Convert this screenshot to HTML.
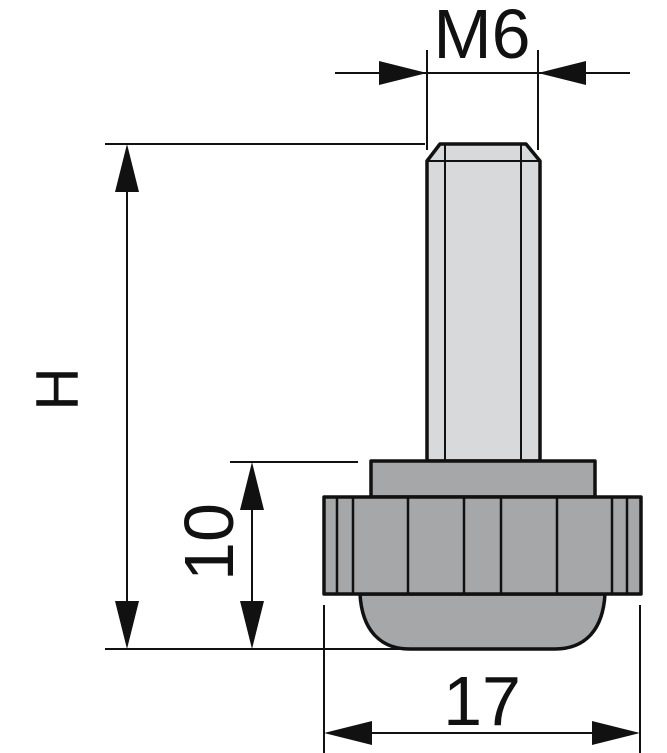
<!DOCTYPE html>
<html><head><style>html,body{margin:0;padding:0;background:#fff}svg{display:block}</style></head>
<body>
<svg width="667" height="753" viewBox="0 0 667 753" xmlns="http://www.w3.org/2000/svg" font-family="Liberation Sans, Arial, sans-serif">
<g stroke="#111" stroke-width="2" fill="none">
<!-- extension lines -->
<line x1="105" y1="144" x2="425" y2="144"/>
<line x1="105" y1="649" x2="400" y2="649"/>
<line x1="230" y1="462" x2="358" y2="462"/>
<line x1="427" y1="50" x2="427" y2="150"/>
<line x1="538" y1="50" x2="538" y2="150"/>
<line x1="324" y1="605" x2="324" y2="753"/>
<line x1="640" y1="605" x2="640" y2="753"/>
<!-- dim lines -->
<line x1="127" y1="150" x2="127" y2="645"/>
<line x1="252" y1="466" x2="252" y2="645"/>
<line x1="335" y1="73" x2="630" y2="73"/>
<line x1="328" y1="733" x2="636" y2="733"/>
</g>
<g fill="#111">
<polygon points="127,144 115,192 139,192"/>
<polygon points="127,649 115,601 139,601"/>
<polygon points="252,462 240,510 264,510"/>
<polygon points="252,649 240,601 264,601"/>
<polygon points="427,73 379,61 379,85"/>
<polygon points="538,73 586,61 586,85"/>
<polygon points="324,733 372,721 372,745"/>
<polygon points="640,733 592,721 592,745"/>
</g>
<!-- part -->
<g stroke="#111" stroke-width="3.5" stroke-linejoin="round">
<path d="M427,461 L427,161 L440,144 L526,144 L540,161 L540,461 Z" fill="#d8d9db"/>
<path d="M360,594 C362,630 380,649 410,649 L555,649 C585,649 603,630 605,594 Z" fill="#a6a7a9"/>
<rect x="371" y="461" width="224" height="36" fill="#a6a7a9"/>
<rect x="324" y="497" width="317" height="97" fill="#a6a7a9"/>
</g>
<g stroke="#111" stroke-width="2">
<line x1="427" y1="161" x2="540" y2="161"/>
<line x1="445" y1="144" x2="445" y2="461"/>
<line x1="521" y1="144" x2="521" y2="461"/>
</g>
<g stroke="#111" stroke-width="2.5">
<line x1="337" y1="497" x2="337" y2="594"/>
<line x1="353" y1="497" x2="353" y2="594"/>
<line x1="408" y1="497" x2="408" y2="594"/>
<line x1="464" y1="497" x2="464" y2="594"/>
<line x1="501" y1="497" x2="501" y2="594"/>
<line x1="557" y1="497" x2="557" y2="594"/>
<line x1="612" y1="497" x2="612" y2="594"/>
<line x1="627" y1="497" x2="627" y2="594"/>
</g>
<g fill="#111" font-size="70">
<text x="482" y="58" text-anchor="middle">M6</text>
<text x="482" y="725" text-anchor="middle">17</text>
<text transform="translate(233,542) rotate(-90)" text-anchor="middle">10</text>
<text transform="translate(78,389) rotate(-90)" text-anchor="middle" font-size="60">H</text>
</g>
</svg>
</body></html>
